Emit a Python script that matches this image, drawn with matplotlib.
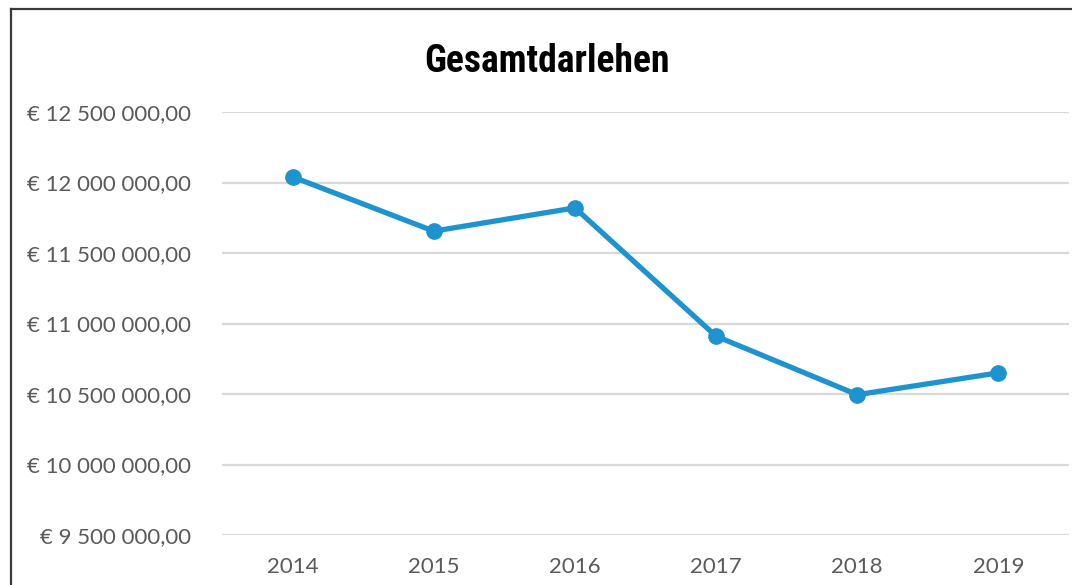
import matplotlib
matplotlib.use("Agg")
import matplotlib.pyplot as plt
from matplotlib.lines import Line2D
from matplotlib.ticker import FuncFormatter

years = ["2014", "2015", "2016", "2017", "2018", "2019"]
darlehen = [12040000, 11655000, 11820000, 10910000, 10495000, 10650000]
y_ticks = [9500000, 10000000, 10500000, 11000000, 11500000, 12000000, 12500000]

plt.rcParams['font.family'] = ['Lato', 'DejaVu Sans']

fig = plt.figure(figsize=(10.72, 5.85), dpi=100)
ax = fig.add_axes([222 / 1072, 1 - 535 / 585, 847 / 1072, 423 / 585])

x = range(len(years))
ax.plot(x, darlehen, color="#1f93d0", lw=3.8, marker="o", markersize=11,
        solid_capstyle="round", zorder=3)

ax.set_xlim(-0.5, len(years) - 0.5)
ax.set_ylim(y_ticks[0], y_ticks[-1])
ax.set_yticks(y_ticks)
ax.set_xticks(list(x))
ax.set_xticklabels(years)


def euro(v, pos):
    s = f"{v:,.2f}".replace(",", " ").replace(".", ",")
    return "€ " + s


ax.yaxis.set_major_formatter(FuncFormatter(euro))
ax.grid(axis="y", color="#d9d9d9", lw=1.6)
ax.set_axisbelow(True)
for sp in ax.spines.values():
    sp.set_visible(False)
ax.tick_params(axis="both", length=0, colors="#5a5a5a", labelsize=16)
ax.tick_params(axis="y", pad=22)
ax.tick_params(axis="x", pad=16)

fig.text(547 / 1072, 1 - 62 / 585, "Gesamtdarlehen", ha="center", va="center",
         fontsize=27, fontweight="heavy", fontstretch="condensed",
         family=["Roboto Condensed", "Liberation Sans Narrow", "DejaVu Sans"],
         color="black")

# outer frame (left and top visible)
fig.add_artist(Line2D([11 / 1072, 11 / 1072], [0, 1 - 9 / 585],
                      transform=fig.transFigure, color="#3a3a3a", lw=1.6))
fig.add_artist(Line2D([11 / 1072, 1], [1 - 9 / 585, 1 - 9 / 585],
                      transform=fig.transFigure, color="#3a3a3a", lw=1.6))

fig.savefig("out.png", dpi=100)
